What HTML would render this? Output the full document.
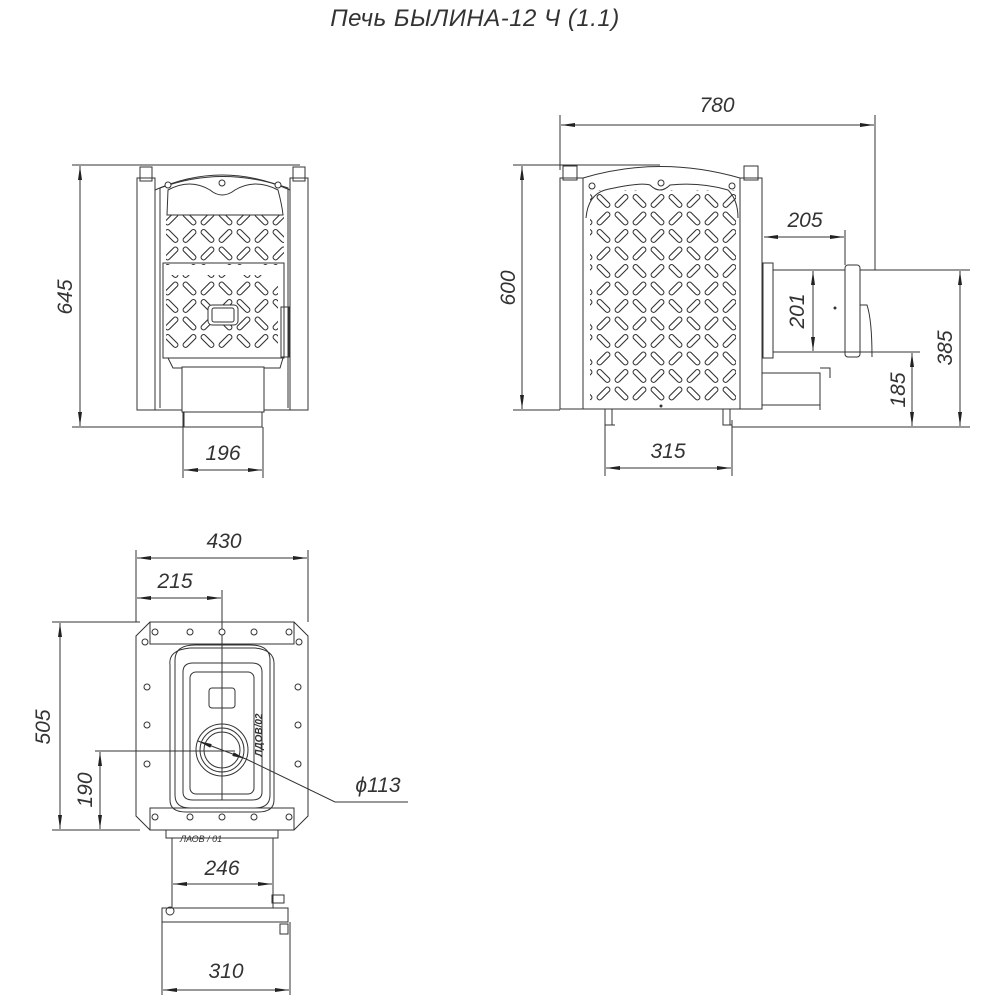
<!DOCTYPE html>
<html><head><meta charset="utf-8"><style>
html,body{margin:0;padding:0;background:#fff}
svg{display:block}
text{font-family:"Liberation Sans","DejaVu Sans",sans-serif;font-style:italic;fill:#333}
</style></head><body>
<svg width="1000" height="1000" viewBox="0 0 1000 1000" xmlns="http://www.w3.org/2000/svg">
<defs>
<marker id="a" viewBox="0 0 14 4" refX="14" refY="2" markerWidth="14" markerHeight="4" orient="auto-start-reverse" markerUnits="userSpaceOnUse"><path d="M0,0 L14,2 L0,4z" fill="#222"/></marker>
<pattern id="p" width="36" height="35" patternUnits="userSpaceOnUse">
<g fill="none" stroke="#333" stroke-width="1.1">
<rect x="1.5" y="6" width="16" height="5" rx="2.5" transform="rotate(45 9.5 8.5)"/>
<rect x="19.5" y="6" width="16" height="5" rx="2.5" transform="rotate(-45 27.5 8.5)"/>
<rect x="1.5" y="23.5" width="16" height="5" rx="2.5" transform="rotate(-45 9.5 26)"/>
<rect x="19.5" y="23.5" width="16" height="5" rx="2.5" transform="rotate(45 27.5 26)"/>
</g></pattern>
</defs>
<text x="475" y="26" font-size="24" text-anchor="middle" fill="#444" letter-spacing="0.5">Печь БЫЛИНА-12 Ч (1.1)</text>

<g stroke="#333" stroke-width="1" fill="none">
<!-- FRONT VIEW -->
<line x1="72" y1="165" x2="300" y2="165"/><line x1="72" y1="427" x2="183" y2="427"/>
<line x1="80" y1="166" x2="80" y2="426" marker-start="url(#a)" marker-end="url(#a)"/>
<rect x="137" y="178" width="18" height="232"/><rect x="290" y="178" width="18" height="232"/>
<rect x="140" y="167" width="12" height="14"/><rect x="293" y="167" width="12" height="14"/>
<path d="M155,410 V190 Q222,160 290,190 V410 Z"/>
<path d="M160,408 V188 Q222,165 288,188 V408"/>
<path d="M168,190 Q190,178 210,190 Q222,200 235,190 Q255,178 278,190 Q282,205 283,215 H167 Z"/>
<rect x="166" y="215" width="118" height="50" fill="url(#p)" stroke="none"/>
<rect x="163" y="263" width="121" height="95"/>
<rect x="166" y="275" width="112" height="76" fill="url(#p)" stroke="none"/>
<rect x="208" y="305" width="30" height="20" rx="4" fill="#fff"/>
<rect x="212" y="308" width="22" height="14" rx="2"/>
<rect x="281" y="307" width="8" height="50"/>
<path d="M168,358 L173,368 H280 L283,358"/>
<rect x="182" y="367" width="82" height="45" fill="#fff"/>
<rect x="184" y="412" width="78" height="15"/>
<line x1="183" y1="412" x2="183" y2="478"/><line x1="263" y1="427" x2="263" y2="478"/>
<line x1="184" y1="470" x2="262" y2="470" marker-start="url(#a)" marker-end="url(#a)"/>

<!-- SIDE VIEW -->
<line x1="513" y1="165" x2="660" y2="165"/><line x1="513" y1="410" x2="560" y2="410"/>
<line x1="522" y1="166" x2="522" y2="409" marker-start="url(#a)" marker-end="url(#a)"/>
<line x1="560" y1="115" x2="560" y2="170"/><line x1="875" y1="115" x2="875" y2="270"/>
<line x1="561" y1="125" x2="874" y2="125" marker-start="url(#a)" marker-end="url(#a)"/>
<rect x="560" y="178" width="23" height="231"/><rect x="740" y="178" width="22" height="231"/>
<rect x="563" y="166" width="14" height="14"/><rect x="744" y="166" width="14" height="14"/>
<path d="M583,409 V178 Q660,155 740,178 V409 Z"/>
<path d="M586,218 Q588,195 605,190 Q640,182 650,185 Q660,195 670,185 Q700,182 728,190 Q738,200 738,218"/>
<rect x="590" y="190" width="146" height="214" fill="url(#p)" stroke="none"/>
<path d="M605,409 V425 H615 M612,409 V425 M723,409 V425 H732 M730,409 V425"/>
<line x1="605" y1="420" x2="605" y2="476"/><line x1="732" y1="420" x2="732" y2="476"/>
<line x1="606" y1="468" x2="731" y2="468" marker-start="url(#a)" marker-end="url(#a)"/>
<rect x="763" y="263" width="10" height="95"/>
<rect x="773" y="270" width="72" height="82"/>
<rect x="845" y="265" width="15" height="92" rx="3"/>
<path d="M860,305 H867 Q872,320 872,357"/>
<line x1="845" y1="230" x2="845" y2="265"/>
<line x1="764" y1="237" x2="844" y2="237" marker-start="url(#a)" marker-end="url(#a)"/>
<line x1="813" y1="271" x2="813" y2="351" marker-start="url(#a)" marker-end="url(#a)"/>
<path d="M762,373 H820 V410 M762,405 H820 M820,368 H830 V378"/>
<line x1="860" y1="270" x2="970" y2="270"/><line x1="732" y1="427" x2="970" y2="427"/>
<line x1="845" y1="352" x2="920" y2="352"/>
<line x1="960" y1="271" x2="960" y2="426" marker-start="url(#a)" marker-end="url(#a)"/>
<line x1="912" y1="353" x2="912" y2="426" marker-start="url(#a)" marker-end="url(#a)"/>

<!-- TOP VIEW -->
<line x1="136" y1="550" x2="136" y2="622"/><line x1="308" y1="550" x2="308" y2="622"/>
<line x1="137" y1="558" x2="307" y2="558" marker-start="url(#a)" marker-end="url(#a)"/>
<line x1="137" y1="598" x2="221" y2="598" marker-start="url(#a)" marker-end="url(#a)"/>
<line x1="222" y1="590" x2="222" y2="800"/>
<line x1="52" y1="622" x2="140" y2="622"/><line x1="52" y1="830" x2="140" y2="830"/>
<line x1="60" y1="623" x2="60" y2="829" marker-start="url(#a)" marker-end="url(#a)"/>
<line x1="95" y1="751" x2="235" y2="751"/>
<line x1="100" y1="752" x2="100" y2="829" marker-start="url(#a)" marker-end="url(#a)"/>
<path d="M150,622 H294 L308,636 V816 L294,830 H150 L136,816 V636 Z"/>
<rect x="150" y="622" width="144" height="22"/><rect x="150" y="808" width="144" height="22"/>
<path d="M175,660 Q175,645 195,645 H250 Q270,645 270,660 V795 Q270,808 255,808 H190 Q175,808 175,795 Z"/>
<path d="M170,665 Q168,650 190,648 H255 Q275,650 274,665 V800 Q274,812 258,812 H186 Q170,812 170,800 Z"/>
<path d="M183,672 Q183,663 193,663 H252 Q262,663 262,672 V792 Q262,800 252,800 H193 Q183,800 183,792 Z"/>
<rect x="190" y="672" width="64" height="122" rx="6"/>
<rect x="209" y="688" width="26" height="20" rx="3"/>
<circle cx="222" cy="750" r="26"/><circle cx="222" cy="750" r="22"/><circle cx="222" cy="750" r="18"/>
<line x1="198" y1="741" x2="246" y2="759" marker-start="url(#a)" marker-end="url(#a)"/>
<path d="M246,759 L335,802 H408"/>
<rect x="166" y="830" width="112" height="8"/>
<rect x="172" y="838" width="101" height="70"/>
<rect x="162" y="908" width="126" height="14"/>
<circle cx="170" cy="911" r="4"/>
<rect x="272" y="895" width="12" height="8"/><rect x="280" y="924" width="8" height="10"/>
<line x1="173" y1="884" x2="272" y2="884" marker-start="url(#a)" marker-end="url(#a)"/>
<line x1="162" y1="922" x2="162" y2="995"/><line x1="290" y1="922" x2="290" y2="995"/>
<line x1="163" y1="990" x2="289" y2="990" marker-start="url(#a)" marker-end="url(#a)"/>
</g>
<g fill="#fff" stroke="#333" stroke-width="1">
<circle cx="155" cy="632" r="3"/><circle cx="190" cy="632" r="3"/><circle cx="222" cy="632" r="3"/><circle cx="254" cy="632" r="3"/><circle cx="289" cy="632" r="3"/>
<circle cx="145" cy="642" r="3"/><circle cx="299" cy="642" r="3"/>
<circle cx="155" cy="817" r="3"/><circle cx="190" cy="817" r="3"/><circle cx="222" cy="817" r="3"/><circle cx="254" cy="817" r="3"/><circle cx="289" cy="817" r="3"/>
<circle cx="147" cy="687" r="3"/><circle cx="147" cy="725" r="3"/><circle cx="147" cy="764" r="3"/>
<circle cx="298" cy="687" r="3"/><circle cx="298" cy="725" r="3"/><circle cx="298" cy="764" r="3"/>
<circle cx="168" cy="185" r="3"/><circle cx="222" cy="183" r="3"/><circle cx="278" cy="185" r="3"/>
<circle cx="592" cy="186" r="3"/><circle cx="661" cy="183" r="3"/><circle cx="732" cy="186" r="3"/>
</g>
<g fill="#333"><circle cx="661" cy="406" r="1.5"/><circle cx="835" cy="308" r="1.5"/></g>
<text x="180" y="842" font-size="9" fill="#333">ЛАОВ / 01</text>
<text x="262" y="735" font-size="10" transform="rotate(-90 262 735)" text-anchor="middle" font-style="normal" font-weight="bold">ЛДОВ/02</text>

<g font-size="21">
<text x="223" y="460" text-anchor="middle">196</text>
<text x="668" y="458" text-anchor="middle">315</text>
<text x="717" y="112" text-anchor="middle">780</text>
<text x="805" y="227" text-anchor="middle">205</text>
<text x="224" y="548" text-anchor="middle">430</text>
<text x="175" y="588" text-anchor="middle">215</text>
<text x="222" y="875" text-anchor="middle">246</text>
<text x="226" y="978" text-anchor="middle">310</text>
<text x="378" y="792" text-anchor="middle">ϕ113</text>
<text transform="translate(72,297) rotate(-90)" text-anchor="middle">645</text>
<text transform="translate(515,288) rotate(-90)" text-anchor="middle">600</text>
<text transform="translate(804,311) rotate(-90)" text-anchor="middle">201</text>
<text transform="translate(952,348) rotate(-90)" text-anchor="middle">385</text>
<text transform="translate(905,390) rotate(-90)" text-anchor="middle">185</text>
<text transform="translate(50,727) rotate(-90)" text-anchor="middle">505</text>
<text transform="translate(92,790) rotate(-90)" text-anchor="middle">190</text>
</g>
</svg>
</body></html>
